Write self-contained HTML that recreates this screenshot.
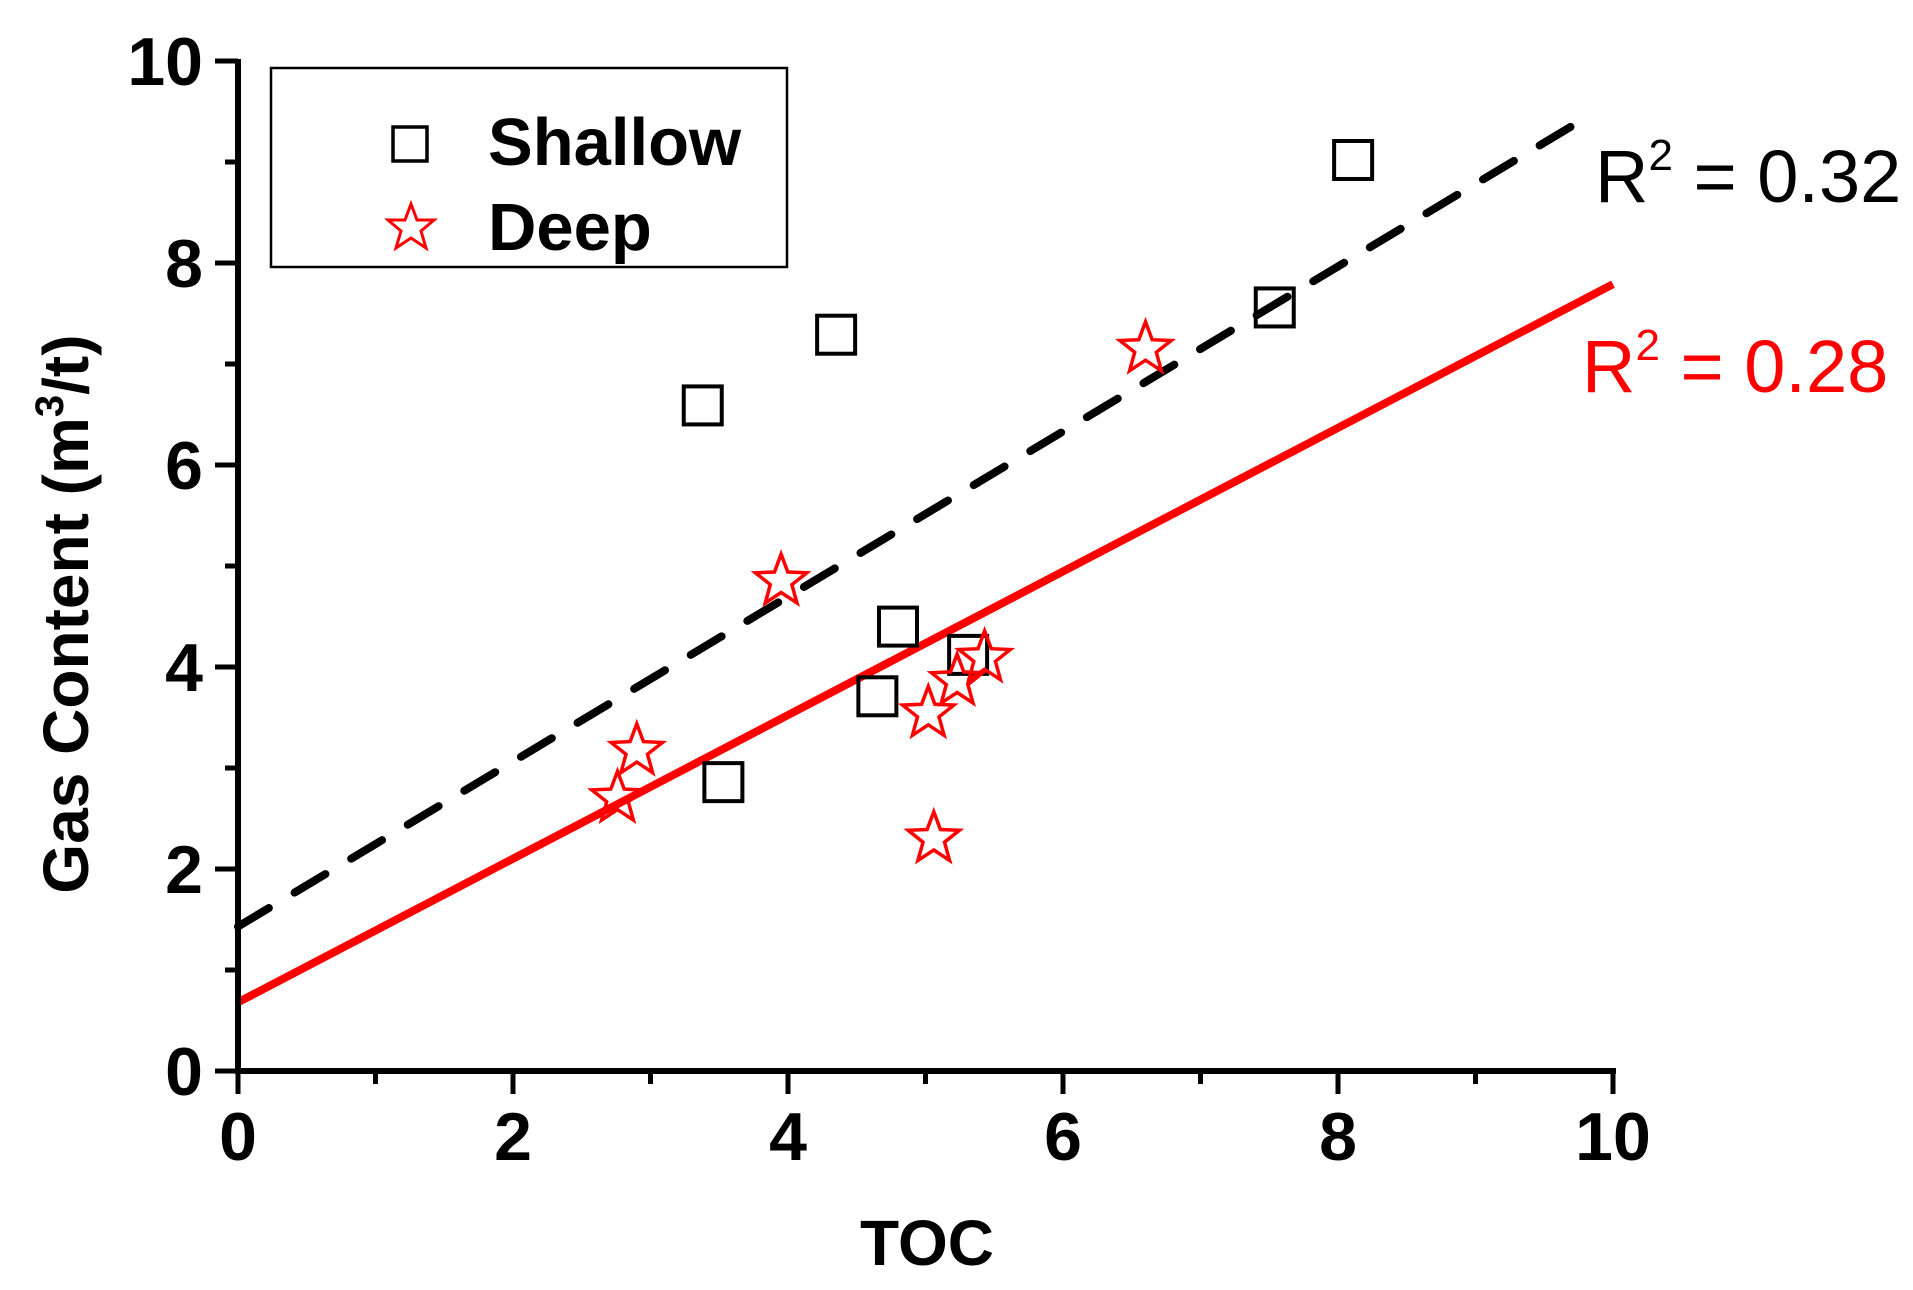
<!DOCTYPE html>
<html><head><meta charset="utf-8"><style>
html,body{margin:0;padding:0;background:#fff;}
body{position:relative;width:1913px;height:1290px;overflow:hidden;}
svg{display:block;font-family:"Liberation Sans",Arial,sans-serif;}
</style></head><body>
<svg id="chart" width="1913" height="1290" viewBox="0 0 1913 1290" xmlns="http://www.w3.org/2000/svg">
<g id="plot"></g>
</svg>
<script>
const xTicks = [0,2,4,6,8,10];
const yTicks = [0,2,4,6,8,10];
const shallowX = [3.38,4.35,8.11,7.54,4.80,4.65,5.31,3.53];
const shallowY = [6.59,7.29,9.02,7.56,4.40,3.71,4.12,2.86];
const deepX = [6.60,3.95,2.90,2.76,5.02,5.23,5.43,5.06];
const deepY = [7.17,4.87,3.19,2.72,3.56,3.88,4.11,2.32];
const shallowFit = [1.43,0.817];
const deepFit = [0.68,0.711];
const shallowFitEnd = 9.83;
const deepFitEnd = 10;

const NS='http://www.w3.org/2000/svg';
const g=document.getElementById('plot');
const X0=238,X1=1613,Y0=1071,Y1=61;
function sx(v){return X0+(v-0)/(10-0)*(X1-X0);}
function sy(v){return Y0-(v-0)/(10-0)*(Y0-Y1);}
function mk(tag,attrs,parent){const e=document.createElementNS(NS,tag);for(const k in attrs)e.setAttribute(k,attrs[k]);(parent||g).appendChild(e);return e;}

let l1=mk('line',{x1:sx(0),y1:sy(shallowFit[0]),x2:sx(shallowFitEnd),y2:sy(shallowFit[0]+shallowFit[1]*shallowFitEnd),stroke:'#000','stroke-width':8,'stroke-dasharray':'36 30','stroke-linecap':'round'});


let l2=mk('line',{x1:sx(0),y1:sy(deepFit[0]),x2:sx(deepFitEnd),y2:sy(deepFit[0]+deepFit[1]*deepFitEnd),stroke:'#f00','stroke-width':8});



function starPts(cx,cy,R){const r=R*0.42;let p=[];for(let i=0;i<10;i++){const a=-Math.PI/2+i*Math.PI/5;const rr=i%2?r:R;p.push((cx+rr*Math.cos(a)).toFixed(1)+','+(cy+rr*Math.sin(a)).toFixed(1));}return p.join(' ');}

for(let i=0;i<shallowX.length;i++){
  const s=mk('rect',{x:sx(shallowX[i])-19,y:sy(shallowY[i])-19,width:38,height:38,fill:'none',stroke:'#000','stroke-width':4});
  
  
}
for(let i=0;i<deepX.length;i++){
  const s=mk('polygon',{points:starPts(sx(deepX[i]),sy(deepY[i])+2,27),fill:'none',stroke:'#f00','stroke-width':3.5});
  
  
}

let ax=mk('line',{x1:X0,y1:Y1-2,x2:X0,y2:Y0+3,stroke:'#000','stroke-width':6});


let ay=mk('line',{x1:X0-3,y1:Y0,x2:X1+3,y2:Y0,stroke:'#000','stroke-width':6});


for(let v=0;v<=10;v++){
  const major=v%2===0;
  const t=mk('line',{x1:sx(v),y1:Y0,x2:sx(v),y2:Y0+(major?23:13),stroke:'#000','stroke-width':5});
  
  
  const t2=mk('line',{x1:X0,y1:sy(v),x2:X0-(major?23:13),y2:sy(v),stroke:'#000','stroke-width':5});
  
  
}
xTicks.forEach(v=>{
  const t=mk('text',{x:sx(v),y:1160,'text-anchor':'middle','font-size':68,'font-weight':'bold'});
  t.textContent=v;
  
  
});
yTicks.forEach(v=>{
  const t=mk('text',{x:203,y:sy(v)+24,'text-anchor':'end','font-size':68,'font-weight':'bold'});
  t.textContent=v;
  
  
});
</script>
<svg style="position:absolute;left:0;top:0" width="1913" height="1290" xmlns="http://www.w3.org/2000/svg" font-family="Liberation Sans, Arial, sans-serif">
<text x="927" y="1265" text-anchor="middle" font-size="64" font-weight="bold">TOC</text>
<text transform="translate(88,614) rotate(-90)" text-anchor="middle" font-size="64" font-weight="bold">Gas Content (m<tspan font-size="40" dy="-25">3</tspan><tspan dy="25">/t)</tspan></text>
<g>
<rect x="271" y="68" width="516" height="199" fill="none" stroke="#000" stroke-width="2.5"/>
<rect x="393" y="127" width="34" height="34" fill="none" stroke="#000" stroke-width="3.5"/>
<text x="488" y="165" font-size="67" font-weight="bold">Shallow</text>
<polygon points="411,204 417,220 434,220 421,231 426,248 411,238 396,248 401,231 388,220 405,220" fill="none" stroke="#f00" stroke-width="3"/>
<text x="488" y="250" font-size="67" font-weight="bold">Deep</text>
</g>
<text x="1595" y="202" font-size="74" fill="#000">R<tspan font-size="44" dy="-32">2</tspan><tspan dy="32"> = 0.32</tspan></text>
<text x="1582" y="392" font-size="74" fill="#f00">R<tspan font-size="44" dy="-32">2</tspan><tspan dy="32"> = 0.28</tspan></text>
</svg>
</body></html>
